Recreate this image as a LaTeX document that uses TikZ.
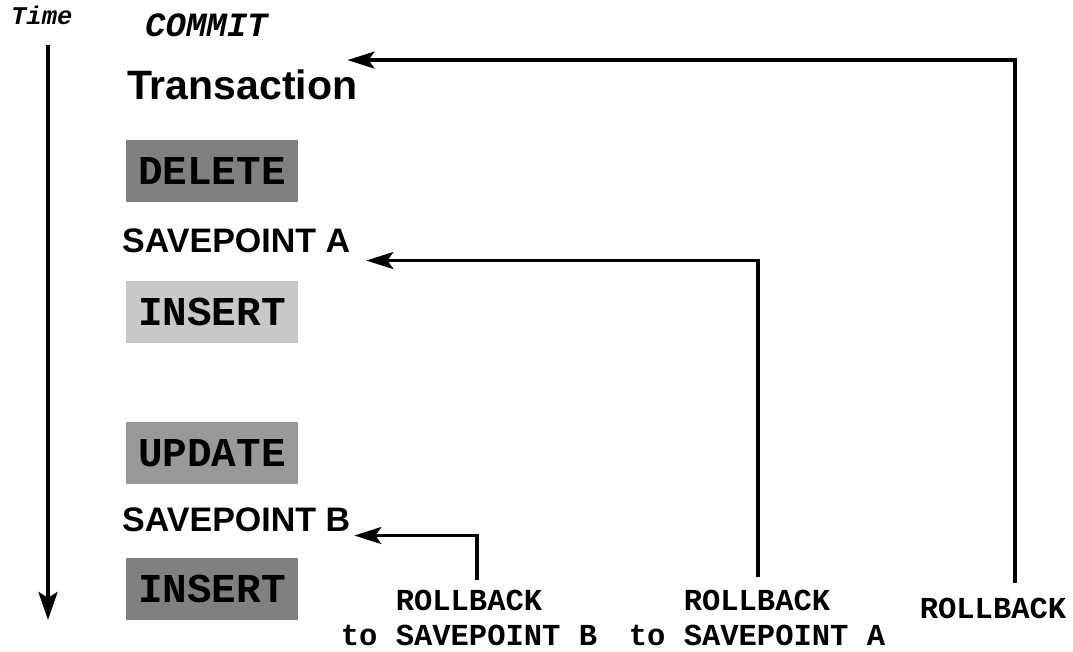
\documentclass[tikz,border=0pt]{standalone}
\usepackage{fontspec}
\setmainfont{Liberation Sans}
\setmonofont{Liberation Mono}
\usetikzlibrary{arrows.meta,positioning,calc}
\definecolor{opdark}{HTML}{808080}
\definecolor{opmid}{HTML}{999999}
\definecolor{oplight}{HTML}{C8C8C8}
\newcommand{\pxfont}[2]{\fontsize{#1}{#2}\selectfont}
\tikzset{
  opbox/.style={minimum width=172pt, minimum height=62pt, inner sep=0pt,
                font=\pxfont{41}{46}\ttfamily\bfseries},
  svpt/.style={inner sep=0pt, anchor=base west, font=\pxfont{34}{40}\bfseries},
  rbk/.style={inner sep=0pt, align=center, font=\pxfont{30.5}{35}\ttfamily\bfseries},
  arr/.style={-{Stealth[length=27pt,width=17pt,inset=6pt]}, line width=3.2pt}}

\begin{document}
\begin{tikzpicture}[x=1pt, y=-1pt]
    \useasboundingbox (0,0) rectangle (1073,652);
    % time axis
    \node[inner sep=0pt, anchor=base west, font=\pxfont{25.5}{30}\ttfamily\bfseries\itshape] (tm) at (11,25) {Time};
    \coordinate (t0) at (48,45);
    \coordinate (t1) at (48,620);
    \draw[arr, line width=4pt, -{Stealth[length=28pt,width=19pt,inset=6pt]}] (t0) -- (t1);
    % transaction steps
    \node[inner sep=0pt, anchor=base west, font=\pxfont{34}{40}\ttfamily\bfseries\itshape] (cm) at (145,37) {COMMIT};
    \node[inner sep=0pt, anchor=base west, font=\pxfont{41}{46}\bfseries] (tr) at (127,100) {Transaction};
    \node[opbox, fill=opdark] (del) at (212,171) {DELETE};
    \node[svpt] (svA) at (122,253) {SAVEPOINT A};
    \node[opbox, fill=oplight, below=79pt of del] (insA) {INSERT};
    \node[opbox, fill=opmid, below=78pt of insA] (upd) {UPDATE};
    \node[svpt] (svB) at (122,531) {SAVEPOINT B};
    \node[opbox, fill=opdark, below=74pt of upd] (insB) {INSERT};
    % rollback commands
    \node[rbk, anchor=base] (rbB) at (469,645) {ROLLBACK\\to SAVEPOINT B};
    \node[rbk, anchor=base] (rbA) at (757,645) {ROLLBACK\\to SAVEPOINT A};
    \node[rbk, anchor=base] (rb) at (993,618) {ROLLBACK};
    \coordinate (kB) at (477,580);
    \coordinate (kA) at (758,577);
    \coordinate (kR) at (1015,583);
    \draw[arr] (kB) |- ([xshift=4pt,yshift=-4pt]svB.south east);
    \draw[arr] (kA) |- ([xshift=16pt,yshift=-7pt]svA.south east);
    \draw[arr] (kR) |- ([xshift=-10pt,yshift=10pt]tr.north east);
  \end{tikzpicture}
\end{document}
